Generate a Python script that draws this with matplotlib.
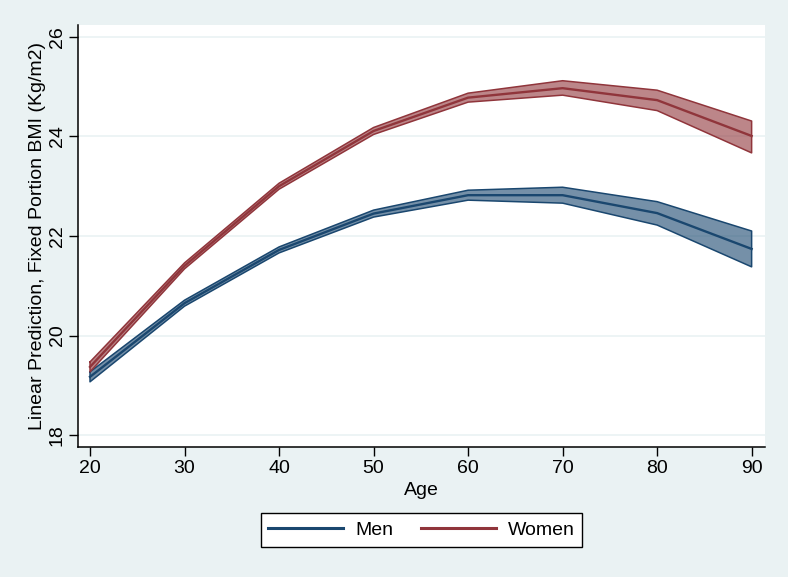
import matplotlib
matplotlib.use("Agg")
import matplotlib.pyplot as plt
import numpy as np

plt.rcParams["font.family"] = ["Liberation Sans", "DejaVu Sans"]

age = [20, 30, 40, 50, 60, 70, 80, 90]

men_fit = [19.17, 20.65, 21.72, 22.45, 22.82, 22.82, 22.46, 21.74]
men_lo = [19.07, 20.59, 21.66, 22.38, 22.72, 22.66, 22.22, 21.38]
men_hi = [19.27, 20.71, 21.78, 22.52, 22.92, 22.98, 22.69, 22.10]

women_fit = [19.37, 21.40, 23.00, 24.11, 24.78, 24.97, 24.73, 24.01]
women_lo = [19.27, 21.34, 22.94, 24.04, 24.69, 24.83, 24.52, 23.67]
women_hi = [19.47, 21.46, 23.06, 24.18, 24.87, 25.12, 24.93, 24.31]

navy = "#1a476f"
maroon = "#90353b"
bg = "#eaf2f3"
fs = 14

fig = plt.figure(figsize=(7.88, 5.77), dpi=100)
fig.patch.set_facecolor(bg)
ax = fig.add_axes([0.099, 0.2253, 0.872, 0.7314])
ax.set_facecolor("white")

for fit, lo, hi, col, name in [
    (men_fit, men_lo, men_hi, navy, "Men"),
    (women_fit, women_lo, women_hi, maroon, "Women"),
]:
    ax.fill_between(age, lo, hi, facecolor=col, alpha=0.6, edgecolor="none", zorder=2)
    ax.plot(age + age[::-1] + [age[0]], hi + lo[::-1] + [hi[0]], color=col, lw=1.1, zorder=3)
    ax.plot(age, fit, color=col, lw=1.7, label=name, zorder=4)

ax.set_xlim(18.73, 91.43)
ax.set_ylim(17.76, 26.24)
ax.set_xticks([20, 30, 40, 50, 60, 70, 80, 90])
ax.set_yticks([18, 20, 22, 24, 26])
ax.grid(axis="y", color=bg, lw=1.2)
ax.set_axisbelow(True)
for s in ["top", "right"]:
    ax.spines[s].set_visible(False)
for s in ["left", "bottom"]:
    ax.spines[s].set_linewidth(1.1)
    ax.spines[s].set_color("black")
ax.tick_params(length=6.5, width=1.0, labelsize=fs, pad=2.5)
plt.setp(ax.get_yticklabels(), rotation=90, va="center")

ax.set_xlabel("Age", fontsize=fs, labelpad=4)
ax.set_ylabel("Linear Prediction, Fixed Portion BMI (Kg/m2)", fontsize=fs, labelpad=1.5)

leg = fig.legend(loc="center", bbox_to_anchor=(421.5 / 788, 1 - 530 / 577), ncol=2,
                 fontsize=fs, frameon=True, fancybox=False, framealpha=1, handlelength=3.85,
                 columnspacing=1.45, borderpad=0.4, borderaxespad=0, handletextpad=0.6)
leg.get_frame().set_edgecolor("black")
leg.get_frame().set_linewidth(1.0)
for line in leg.get_lines():
    line.set_linewidth(2.2)

fig.savefig("out.png", dpi=100, facecolor=fig.get_facecolor())
